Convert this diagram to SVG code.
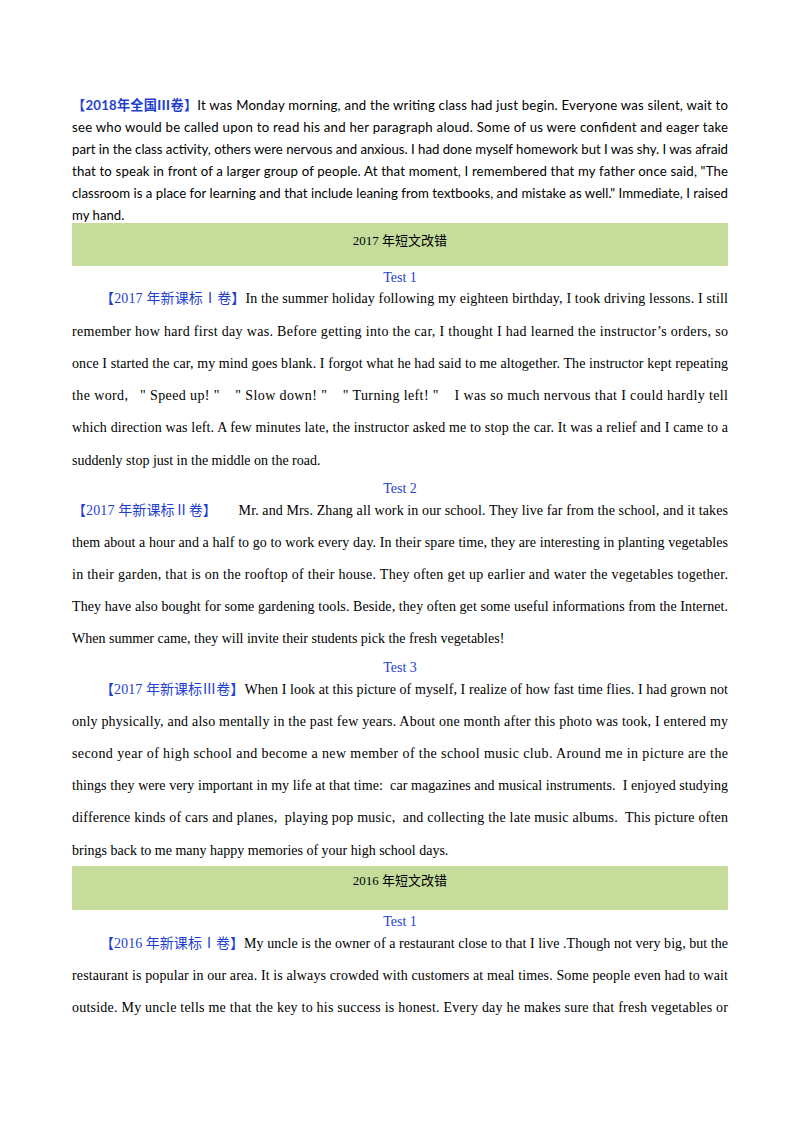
<svg xmlns="http://www.w3.org/2000/svg" width="800" height="1132" viewBox="0 0 800 1132">
<style>
.s{font-family:Lato,"Open Sans","Noto Sans CJK SC",sans-serif;font-size:13.2px;fill:#000}
.t{font-family:"Liberation Serif","Noto Sans CJK SC",serif;font-size:14px;fill:#000}
.b{fill:#1f3fd0}
.c{font-family:"Liberation Serif","Noto Sans CJK SC",serif;font-size:14px;fill:#1f3fd0;text-anchor:middle}
.h{font-family:"Liberation Serif","Noto Sans CJK SC",serif;font-size:13px;fill:#000;text-anchor:middle}
.band{fill:#c5dc9b}
</style>
<rect width="800" height="1132" fill="#fff"/>
<g id="p2018">
<text class="s" x="72" y="110" textLength="656" lengthAdjust="spacing"><tspan class="b" font-weight="bold">【2018年全国Ⅲ卷】</tspan>It was Monday morning, and the writing class had just begin. Everyone was silent, wait to</text>
<text class="s" x="72" y="132" textLength="656" lengthAdjust="spacing">see who would be called upon to read his and her paragraph aloud. Some of us were confident and eager take</text>
<text class="s" x="72" y="154" textLength="656" lengthAdjust="spacing">part in the class activity, others were nervous and anxious. I had done myself homework but I was shy. I was afraid</text>
<text class="s" x="72" y="176" textLength="656" lengthAdjust="spacing">that to speak in front of a larger group of people. At that moment, I remembered that my father once said, "The</text>
<text class="s" x="72" y="198" textLength="656" lengthAdjust="spacing">classroom is a place for learning and that include leaning from textbooks, and mistake as well." Immediate, I raised</text>
<text class="s" x="72" y="220">my hand.</text>
</g>
<g id="band2017"><rect class="band" x="72" y="223" width="656" height="43"/><text class="h" x="400" y="245">2017 年短文改错</text></g>
<g id="t2017-1">
<text class="c" x="400" y="282">Test  1</text>
<text class="t" x="100" y="303" textLength="628" lengthAdjust="spacing"><tspan class="b">【2017 年新课标Ⅰ卷】</tspan>In  the summer holiday following my eighteen birthday,  I took driving lessons. I still</text>
<text class="t" x="72" y="336" textLength="656" lengthAdjust="spacing">remember how hard first day was. Before getting into the car, I thought I had learned the instructor’s orders, so</text>
<text class="t" x="72" y="368" textLength="656" lengthAdjust="spacing">once I started the car, my mind goes blank.  I forgot what he had said to me altogether. The instructor kept repeating</text>
<text class="t" x="72" y="400" textLength="656" lengthAdjust="spacing" xml:space="preserve">the word,   " Speed up! "    " Slow down! "    " Turning left! "    I was so much nervous that I could hardly tell</text>
<text class="t" x="72" y="432" textLength="656" lengthAdjust="spacing">which direction was left. A few minutes late, the instructor asked me to stop the car. It was a relief and I came to a</text>
<text class="t" x="72" y="465">suddenly stop just in the middle on the road.</text>
</g>
<g id="t2017-2">
<text class="c" x="400" y="493">Test  2</text>
<text class="t" x="72" y="515" textLength="656" lengthAdjust="spacing" xml:space="preserve"><tspan class="b">【2017 年新课标Ⅱ卷】</tspan>      Mr. and Mrs. Zhang all work in our school. They live far from the school, and it takes</text>
<text class="t" x="72" y="547" textLength="656" lengthAdjust="spacing">them about a hour and a half to go to work every day. In their spare time, they are interesting in planting vegetables</text>
<text class="t" x="72" y="579" textLength="656" lengthAdjust="spacing">in their garden, that is on the rooftop of their house. They often get up earlier and water the vegetables together.</text>
<text class="t" x="72" y="611" textLength="656" lengthAdjust="spacing">They have also bought for some gardening tools. Beside, they often get some useful informations from the Internet.</text>
<text class="t" x="72" y="643">When summer came, they will invite their students pick the fresh vegetables!</text>
</g>
<g id="t2017-3">
<text class="c" x="400" y="672">Test  3</text>
<text class="t" x="100" y="694" textLength="628" lengthAdjust="spacing"><tspan class="b">【2017 年新课标Ⅲ卷】</tspan>When I look at this picture of myself,  I realize of how fast time flies. I had grown not</text>
<text class="t" x="72" y="726" textLength="656" lengthAdjust="spacing">only physically,  and also mentally in the past few years. About one month after this photo was took, I entered my</text>
<text class="t" x="72" y="758" textLength="656" lengthAdjust="spacing">second year of high school and become a new member of the school music club. Around me in picture are the</text>
<text class="t" x="72" y="790" textLength="656" lengthAdjust="spacing" xml:space="preserve">things they were very important in my life at that time:  car magazines and musical instruments.  I enjoyed studying</text>
<text class="t" x="72" y="822" textLength="656" lengthAdjust="spacing" xml:space="preserve">difference kinds of cars and planes,  playing pop music,  and collecting the late music albums.  This picture often</text>
<text class="t" x="72" y="855">brings back to me many happy memories of your high school days.</text>
</g>
<g id="band2016"><rect class="band" x="72" y="866" width="656" height="44"/><text class="h" x="400" y="885">2016 年短文改错</text></g>
<g id="t2016-1">
<text class="c" x="400" y="926">Test  1</text>
<text class="t" x="100" y="948" textLength="628" lengthAdjust="spacing"><tspan class="b">【2016 年新课标Ⅰ卷】</tspan>My uncle is the owner of a restaurant close to that I live .Though not very big, but the</text>
<text class="t" x="72" y="980" textLength="656" lengthAdjust="spacing">restaurant is popular in our area. It is always crowded with customers at meal times. Some people even had to wait</text>
<text class="t" x="72" y="1012" textLength="656" lengthAdjust="spacing">outside. My uncle tells me that the key to his success is honest. Every day he makes sure that fresh vegetables or</text>
</g>
</svg>
